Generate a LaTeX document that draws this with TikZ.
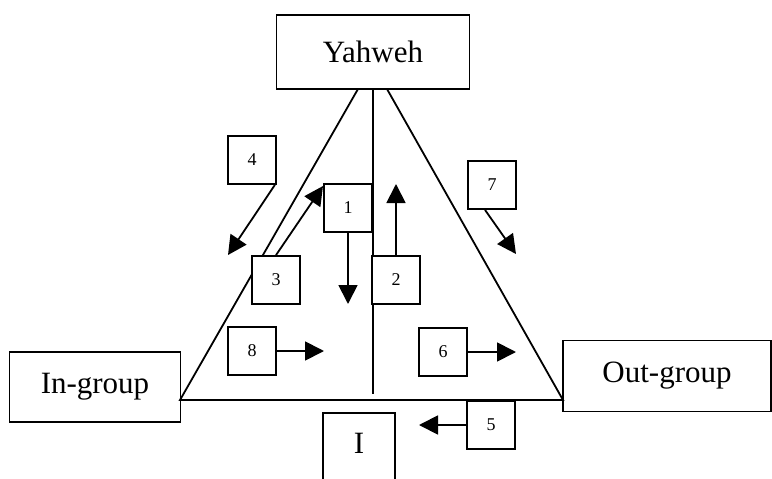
\documentclass[tikz,border=0pt]{standalone}
\usepackage{fontspec}
\setmainfont{Liberation Serif}
\usetikzlibrary{arrows.meta,calc}
\tikzset{
  bigbox/.style={draw, fill=white, line width=1.8pt, font=\fontsize{31}{33}\selectfont, inner sep=0pt},
  numbox/.style={draw, fill=white, line width=1.8pt, minimum width=48pt, minimum height=48pt, inner sep=0pt, font=\fontsize{18}{20}\selectfont},
  edge/.style={line width=1.8pt},
  arr/.style={line width=1.8pt, -{Triangle[length=19pt,width=19pt]}}
}
\begin{document}
\begin{tikzpicture}[x=1pt,y=-1pt]
\useasboundingbox (0,0) rectangle (772,479);
\clip (0,0) rectangle (772,479);

% group boxes
\node[bigbox, minimum width=193pt, minimum height=74pt] (yahweh) at (373,52) {Yahweh};
\node[bigbox, minimum width=171pt, minimum height=70pt] (ingroup) at (95,387) {In-group};
\node[bigbox, minimum width=208pt, minimum height=71pt] (outgroup) at (667,376) {Out-group};

% triangle corners
\coordinate (apexL) at (358,89);
\coordinate (apexM) at (373,89);
\coordinate (apexR) at (387,89);
\coordinate (baseL) at (180,400);
\coordinate (baseR) at (563,400);
\coordinate (midfoot) at (373,394);

\draw[edge] (apexL) -- (baseL) -- (baseR) -- (apexR);
\draw[edge] (apexM) -- (midfoot);

% the self, cut by the lower edge
\node[bigbox, minimum width=72pt, minimum height=90pt, anchor=north] (self) at (359,412) {};
\node[font=\fontsize{31}{33}\selectfont] (selflabel) at (359,443) {I};

% numbered boxes
\node[numbox] (b1) at (348,208) {1};
\node[numbox] (b2) at (396,280) {2};
\node[numbox] (b3) at (276,280) {3};
\node[numbox] (b4) at (252,160) {4};
\node[numbox] (b5) at (491,425) {5};
\node[numbox] (b6) at (443,352) {6};
\node[numbox] (b7) at (492,185) {7};
\node[numbox] (b8) at (252,351) {8};

% arrow tips
\coordinate (t1) at (348,304);
\coordinate (t2) at (396,184);
\coordinate (t3) at (323,186);
\coordinate (t4) at (228,255);
\coordinate (t5) at (419,425);
\coordinate (t6) at (516,352);
\coordinate (t7) at (516,254);
\coordinate (t8) at (324,351);

\draw[arr] (b1.south) -- (t1);
\draw[arr] (b2.north) -- (t2);
\draw[arr] (b3.north) -- (t3);
\draw[arr] ($(b4.south east)+(-2,0)$) -- (t4);
\draw[arr] (b5.west) -- (t5);
\draw[arr] (b6.east) -- (t6);
\draw[arr] ($(b7.south)+(-7,0)$) -- (t7);
\draw[arr] (b8.east) -- (t8);
\end{tikzpicture}
\end{document}
